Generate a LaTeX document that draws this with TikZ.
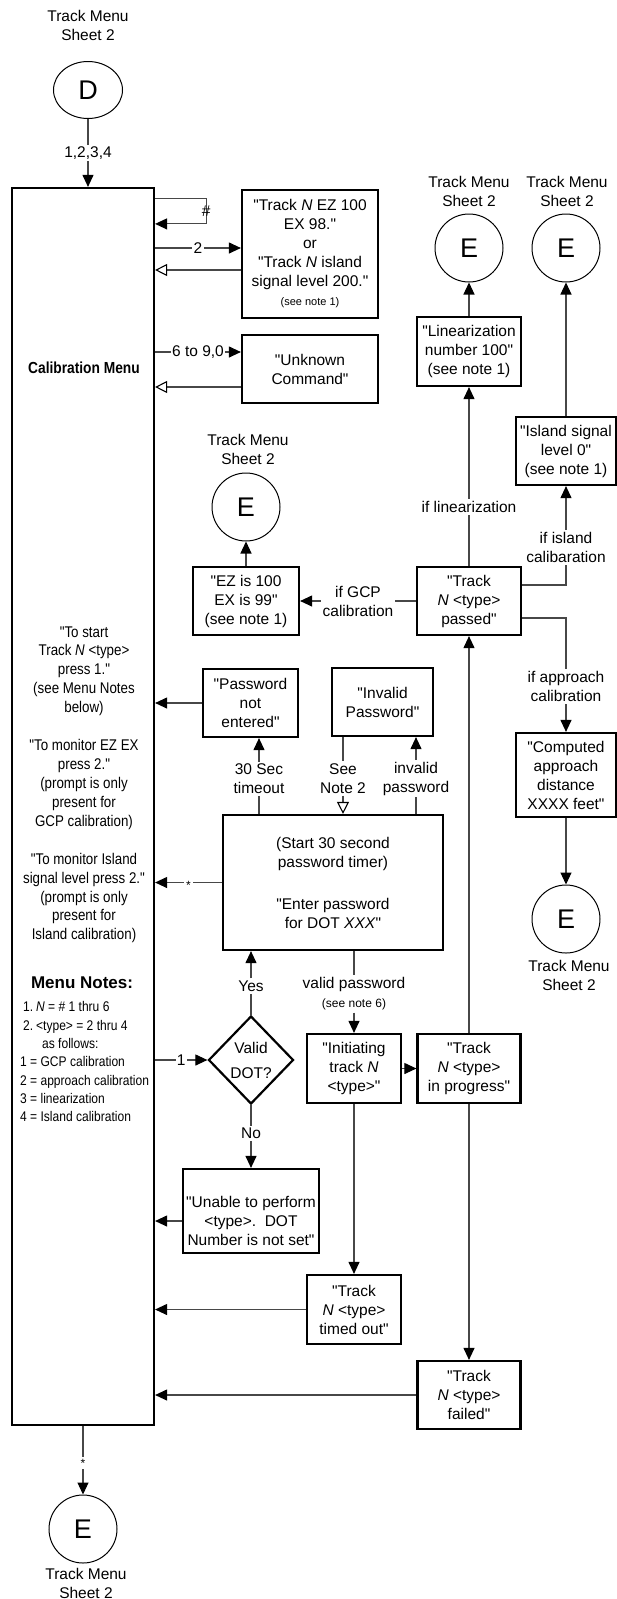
\documentclass[tikz,border=0pt]{standalone}
\usepackage{fontspec}
\setmainfont{Liberation Sans}[Ligatures=TeXOff]
\newfontfamily\narrowfont[FakeStretch=0.86, Ligatures=TeXOff]{Liberation Sans}
\usetikzlibrary{arrows.meta, shapes.geometric, calc}

\tikzset{
    box/.style={draw, line width=2.2pt, align=center, inner sep=0pt},
    conn/.style={draw=black!72, line width=1.1pt},
    arr/.style={conn, -{Triangle[color=black, length=12pt, width=11pt]}},
    oarr/.style={conn, -{Triangle[color=black, length=12pt, width=12pt, open]}},
    lbl/.style={fill=white, inner sep=2pt, align=center},
    sheetcirc/.style={draw, line width=1pt, circle, minimum size=68pt, inner sep=0pt,
        font=\fontsize{27}{27}\selectfont},
    sheet/.style={align=center},
    menutxt/.style={align=center, font=\narrowfont\fontsize{15.5}{18.8}\selectfont},
    smalltxt/.style={font=\fontsize{12}{14}\selectfont},
}

\begin{document}
\begin{tikzpicture}[x=1pt, y=-1pt, font=\fontsize{15.5}{19}\selectfont]
    \useasboundingbox (0,0) rectangle (617,1599);

    \node[sheet] (Dtxt) at (88,25) {Track Menu\\Sheet 2};
    \node[sheetcirc, ellipse, minimum width=69pt, minimum height=57pt] (D) at (88,90) {D};

    \node[box, minimum width=142pt, minimum height=1237pt] (menu) at (83,806.5) {};
    \node[font=\narrowfont\fontsize{16}{19}\selectfont\bfseries] (calname) at (84,368) {Calibration Menu};
    \node[menutxt] (prstart) at (84,671) {"To start\\Track \textit{N} <type>\\press 1."\\(see Menu Notes\\below)};
    \node[menutxt] (prez) at (84,784.5) {"To monitor EZ EX\\press 2."\\(prompt is only\\present for\\GCP calibration)};
    \node[menutxt] (prisl) at (84,898) {"To monitor Island\\signal level press 2."\\(prompt is only\\present for\\Island calibration)};
    \node[font=\fontsize{17}{20}\selectfont\bfseries] (notes) at (82,983) {Menu Notes:};
    \node[align=left, anchor=north west, inner sep=0pt,
        font=\narrowfont\fontsize{14}{18.3}\selectfont] (notelist) at (20,1001.5)
        {\hspace*{3pt}\makebox[13pt][l]{1.}\textit{N} = \# 1 thru 6\\
         \hspace*{3pt}\makebox[13pt][l]{2.}<type> = 2 thru 4\\
         \hspace*{22pt}as follows:\\
         1 = GCP calibration\\
         2 = approach calibration\\
         3 = linearization\\
         4 = Island calibration};

    \node[box, minimum width=136pt, minimum height=128pt] (ezbox) at (310,254)
        {"Track \textit{N} EZ 100\\EX 98."\\or\\"Track \textit{N} island\\signal level 200."\\{\fontsize{11}{13}\selectfont(see note 1)}};
    \node[box, minimum width=136pt, minimum height=68pt] (unknown) at (310,369) {"Unknown\\Command"};

    \node[sheet] (E1txt) at (469,191.5) {Track Menu\\Sheet 2};
    \node[sheetcirc] (E1) at (469,248) {E};
    \node[sheet] (E2txt) at (567,191.5) {Track Menu\\Sheet 2};
    \node[sheetcirc] (E2) at (566,248) {E};
    \node[box, minimum width=104pt, minimum height=69pt] (linbox) at (469,351.5) {"Linearization\\number 100"\\(see note 1)};
    \node[box, minimum width=100pt, minimum height=68pt] (island) at (566,451) {"Island signal\\level 0"\\(see note 1)};
    \node[box, minimum width=104pt, minimum height=68pt] (passed) at (469,601) {"Track\\\textit{N} <type>\\passed"};

    \node[sheet] (E3txt) at (248,449) {Track Menu\\Sheet 2};
    \node[sheetcirc] (E3) at (246,507) {E};
    \node[box, minimum width=106pt, minimum height=68pt] (ezis) at (246,601) {"EZ is 100\\EX is 99"\\(see note 1)};

    \node[box, minimum width=95pt, minimum height=68pt] (pwne) at (250.5,703) {"Password\\not\\entered"};
    \node[box, minimum width=101pt, minimum height=68pt] (invpw) at (382.5,702) {"Invalid\\Password"};
    \node[box, minimum width=100pt, minimum height=84pt] (appr) at (566,775) {"Computed\\approach\\distance\\XXXX feet"};
    \node[sheetcirc] (E4) at (566,919) {E};
    \node[sheet] (E4txt) at (569,975) {Track Menu\\Sheet 2};

    \node[box, minimum width=220pt, minimum height=135pt] (startb) at (333,882.5)
        {(Start 30 second\\password timer)\\[23pt]"Enter password\\for DOT \textit{XXX}"};
    \node[box, diamond, minimum width=85pt, minimum height=88pt] (valid) at (251,1060) {Valid\\[6pt]DOT?};
    \node[box, minimum width=94pt, minimum height=69pt] (init) at (354,1068.5) {"Initiating\\track \textit{N}\\<type>"};
    \node[box, minimum width=103pt, minimum height=69pt] (prog) at (469,1068.5) {"Track\\\textit{N} <type>\\in progress"};
    \node[box, minimum width=136pt, minimum height=84pt] (unable) at (251,1211) {};
    \node[align=center] (unabletxt) at (251,1221) {"Unable to perform\\<type>.\ \ DOT\\Number is not set"};
    \node[box, minimum width=94pt, minimum height=69pt] (tmout) at (354,1309.5) {"Track\\\textit{N} <type>\\timed out"};
    \node[box, minimum width=103pt, minimum height=68pt] (failed) at (469,1395) {"Track\\\textit{N} <type>\\failed"};

    \node[sheetcirc] (E5) at (83,1529) {E};
    \node[sheet] (E5txt) at (86,1583) {Track Menu\\Sheet 2};

    \draw[arr] (D) -- node[lbl] {1,2,3,4} (menu.north -| D);

    \coordinate (loopA) at ([yshift=-12pt]menu.north east);
    \coordinate (loopB) at ([yshift=-37pt]menu.north east);
    \draw[arr] (loopA) -- ++(51,0) -- node[inner sep=1pt] {\#} ++(0,25) -- (loopB);

    \coordinate (ezin) at ([yshift=6pt]ezbox.west);
    \coordinate (ezout) at ([yshift=-16pt]ezbox.west);
    \draw[arr] (menu.east |- ezin) -- node[lbl] {2} (ezin);
    \draw[oarr] (ezout) -- (menu.east |- ezout);

    \coordinate (unkin) at ([yshift=17pt]unknown.west);
    \coordinate (unkout) at ([yshift=-18pt]unknown.west);
    \draw[arr] (menu.east |- unkin) -- node[lbl, inner sep=1pt] {6 to 9,0} (unkin);
    \draw[oarr] (unkout) -- (menu.east |- unkout);

    \draw[arr] (passed) -- node[lbl, pos=0.33] {if linearization} (linbox);
    \draw[arr] (linbox) -- (E1);
    \draw[arr] (island) -- (E2);
    \draw[arr] ([yshift=16pt]passed.east) -| node[lbl, pos=0.69] {if island\\calibaration} (island.south);
    \draw[arr] ([yshift=-17pt]passed.east) -| node[lbl, pos=0.8] {if approach\\calibration} (appr.north);
    \draw[arr] (appr) -- (E4);
    \draw[arr] (passed) -- node[lbl] {if GCP\\calibration} (ezis);
    \draw[arr] (ezis) -- (E3);

    \draw[arr] (pwne) -- (menu.east |- pwne);
    \node[lbl] (tmolbl) at (259,779) {30 Sec\\timeout};
    \draw[conn] (startb.north -| tmolbl) -- (tmolbl);
    \draw[arr] (tmolbl) -- (pwne.south -| tmolbl);
    \node[lbl] (n2lbl) at (343,778.5) {See\\Note 2};
    \draw[conn] (invpw.south -| n2lbl) -- (n2lbl);
    \draw[oarr] (n2lbl) -- (startb.north -| n2lbl);
    \node[lbl] (invlbl) at (416,778.5) {invalid\\password};
    \draw[conn] (startb.north -| invlbl) -- (invlbl);
    \draw[arr] (invlbl) -- (invpw.south -| invlbl);
    \draw[arr] (startb) -- node[lbl, smalltxt, yshift=-3pt] {*} (menu.east |- startb);

    \draw[arr] (menu.east |- valid) -- node[lbl, inner sep=1pt] {1} (valid);
    \node[lbl] (yeslbl) at (251,986) {Yes};
    \draw[conn] (valid) -- (yeslbl);
    \draw[arr] (yeslbl) -- (startb.south -| yeslbl);
    \node[lbl] (nolbl) at (251,1133.5) {No};
    \draw[conn] (valid) -- (nolbl);
    \draw[arr] (nolbl) -- (unable);
    \draw[arr] (unable.west |- unabletxt) -- (menu.east |- unabletxt);

    \node[lbl] (vplbl) at (354,994) {valid password\\{\fontsize{12}{14}\selectfont(see note 6)}};
    \draw[conn] (startb.south -| vplbl) -- (vplbl);
    \draw[arr] (vplbl) -- (init);
    \draw[arr] (init) -- (prog);
    \draw[arr] (prog) -- (passed);
    \draw[arr] (init) -- (tmout);
    \draw[arr] (prog) -- (failed);
    \draw[arr] (tmout) -- (menu.east |- tmout);
    \draw[arr] (failed) -- (menu.east |- failed);
    \draw[arr] (menu) -- node[lbl, smalltxt, yshift=-3pt] {*} (E5);
\end{tikzpicture}
\end{document}
